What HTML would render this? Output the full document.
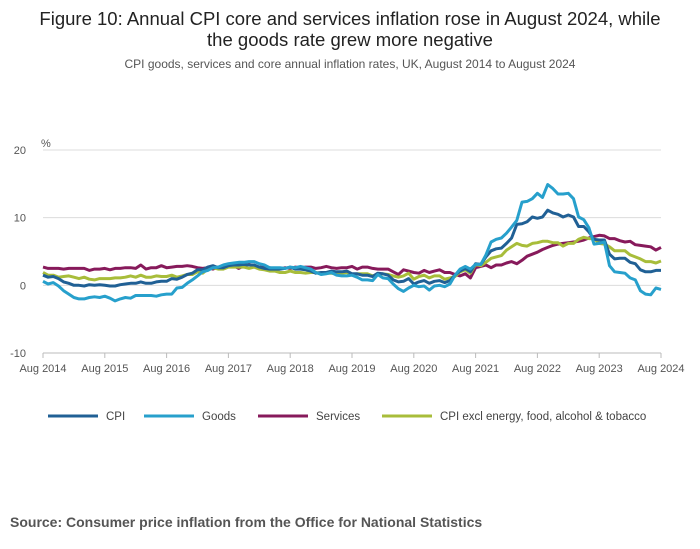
<!DOCTYPE html>
<html><head><meta charset="utf-8"><style>
body{margin:0;background:#fff;font-family:"Liberation Sans",sans-serif;}
#wrap{position:relative;width:700px;height:549px;overflow:hidden}
</style></head><body>
<div id="wrap">
<svg id="c" width="700" height="549">
<text x="350" y="25" text-anchor="middle" font-size="18.5" fill="#222">Figure 10: Annual CPI core and services inflation rose in August 2024, while</text>
<text x="350" y="46" text-anchor="middle" font-size="18.5" fill="#222">the goods rate grew more negative</text>
<text x="350" y="68" text-anchor="middle" font-size="12" fill="#555">CPI goods, services and core annual inflation rates, UK, August 2014 to August 2024</text>
<text x="41" y="147" font-size="11" fill="#555">%</text>
<text x="10" y="527" font-size="14" font-weight="bold" fill="#555">Source: Consumer price inflation from the Office for National Statistics</text>
<g id="grid"></g><g id="series"></g><g id="legend"></g>
</svg>
</div>
<script>
const yTicks=[20,10,0,-10];
const xLabels=["Aug 2014","Aug 2015","Aug 2016","Aug 2017","Aug 2018","Aug 2019","Aug 2020","Aug 2021","Aug 2022","Aug 2023","Aug 2024"];
const seriesNames=["CPI","Goods","Services","CPI excl energy, food, alcohol & tobacco"];
const cpi=[1.5,1.2,1.3,1.0,0.5,0.3,0.0,0.0,-0.1,0.1,0.0,0.1,0.0,-0.1,-0.1,0.1,0.2,0.3,0.3,0.5,0.3,0.3,0.5,0.6,0.6,1.0,0.9,1.2,1.6,1.8,2.3,2.3,2.7,2.9,2.6,2.6,2.9,3.0,3.0,3.1,3.0,3.0,2.7,2.5,2.4,2.4,2.4,2.5,2.7,2.4,2.4,2.3,2.1,1.8,1.9,1.9,2.1,2.0,2.0,2.1,1.7,1.7,1.5,1.5,1.3,1.8,1.7,1.5,0.8,0.5,0.6,1.0,0.2,0.5,0.7,0.3,0.6,0.7,0.4,0.7,1.5,2.1,2.5,2.0,3.2,3.1,4.2,5.1,5.4,5.5,6.2,7.0,9.0,9.1,9.4,10.1,9.9,10.1,11.1,10.7,10.5,10.1,10.4,10.1,8.7,8.7,7.9,6.8,6.7,6.7,4.6,3.9,4.0,4.0,3.4,3.2,2.3,2.0,2.0,2.2,2.2];
const goods=[0.6,0.2,0.4,-0.1,-0.8,-1.3,-1.8,-2.0,-2.0,-1.8,-1.7,-1.8,-1.6,-1.9,-2.3,-2.0,-1.8,-1.9,-1.5,-1.5,-1.5,-1.5,-1.6,-1.4,-1.3,-1.3,-0.4,-0.3,0.3,0.8,1.4,2.0,2.2,2.6,2.7,3.0,3.2,3.3,3.4,3.4,3.5,3.5,3.2,3.0,2.6,2.6,2.6,2.5,2.7,2.6,2.8,2.6,2.4,1.9,1.6,1.7,1.9,1.5,1.4,1.4,1.5,1.2,0.8,0.8,0.7,1.6,1.1,1.0,0.2,-0.5,-0.9,-0.4,0.0,-0.2,-0.1,-0.7,-0.1,0.0,-0.2,0.2,1.5,2.4,2.8,2.4,3.1,3.1,4.5,6.4,6.8,7.0,7.7,8.6,9.6,12.3,12.4,12.8,13.6,13.0,14.9,14.3,13.5,13.5,13.6,12.8,10.1,9.7,8.5,6.1,6.2,6.4,2.9,2.0,1.9,1.8,1.1,0.8,-0.8,-1.3,-1.4,-0.4,-0.6];
const services=[2.7,2.5,2.5,2.5,2.4,
2.5,2.5,2.5,2.5,2.2,2.4,2.4,2.5,2.3,2.5,2.5,2.6,
2.6,2.5,3.0,2.4,2.6,2.6,2.9,2.6,2.7,2.8,2.8,2.9,
2.8,2.6,2.5,2.6,2.4,2.7,2.6,2.8,2.9,2.5,2.9,3.1,
2.9,2.7,2.7,2.6,2.4,2.4,2.6,2.5,2.7,2.6,2.7,2.7,
2.5,2.6,2.8,2.6,2.5,2.6,2.6,2.8,2.4,2.7,2.7,2.5,
2.4,2.4,2.4,2.0,1.6,2.3,2.1,1.9,1.8,2.2,1.9,2.1,
2.3,1.9,1.9,1.6,1.4,1.7,1.1,2.6,2.8,3.0,2.6,3.0,
3.0,3.3,3.5,3.2,3.7,4.3,4.6,4.9,5.3,5.6,5.9,6.1,
6.2,6.3,6.4,6.5,6.7,7.0,7.2,7.4,7.3,6.9,6.9,6.6,
6.4,6.5,6.0,5.9,5.8,5.7,5.2,5.6];
const core=[1.9,1.5,1.5,1.2,1.3,1.4,1.2,1.0,1.2,0.9,0.8,1.0,1.0,1.0,1.1,1.1,1.2,1.4,1.2,1.5,1.2,1.2,1.4,1.3,1.3,1.5,1.2,1.4,1.6,1.6,2.0,1.8,2.4,2.6,2.4,2.4,2.7,2.7,2.7,2.7,2.5,2.7,2.4,2.3,2.1,2.1,1.9,1.9,2.1,1.9,1.9,1.8,1.9,1.9,1.8,1.8,1.8,1.7,1.8,1.9,1.5,1.7,1.7,1.7,1.4,1.6,1.7,1.6,1.4,1.2,1.4,1.8,0.9,1.3,1.5,1.1,1.4,1.4,0.9,1.1,1.3,2.0,2.3,1.8,3.1,2.9,3.4,4.0,4.2,4.4,5.2,5.7,6.2,5.9,5.8,6.2,6.3,6.5,6.5,6.3,6.3,5.8,6.2,6.2,6.8,7.1,6.9,6.9,6.2,6.1,5.7,5.1,5.1,5.1,4.5,4.2,3.9,3.5,3.5,3.3,3.6];
const colors=["#206095","#27a0cc","#871a5b","#a8bd3a"];
const NS="http://www.w3.org/2000/svg";
const x0=43,x1=661,y0v=20,y1v=-10,py0=150,py1=353;
const xs=i=>x0+(x1-x0)*i/120;
const ys=v=>py0+(y0v-v)*(py1-py0)/(y0v-y1v);
function mk(t,a,p){const e=document.createElementNS(NS,t);for(const k in a)e.setAttribute(k,a[k]);p.appendChild(e);return e;}
const grid=document.getElementById('grid');
yTicks.forEach(v=>{
 const l=mk('line',{x1:x0,x2:x1,y1:ys(v),y2:ys(v),stroke:v===-10?'#bbb':'#dcdcdc','stroke-width':1},grid);
 
 
 const t=mk('text',{x:26,y:ys(v)+4,'text-anchor':'end','font-size':11,fill:'#555'},grid);t.textContent=v;
 
 
});
xLabels.forEach((s,i)=>{
 const x=xs(i*12);
 const tk=mk('line',{x1:x,x2:x,y1:353,y2:358,stroke:'#bbb'},grid);
 
 
 const t=mk('text',{x:x,y:372,'text-anchor':'middle','font-size':11,fill:'#555'},grid);t.textContent=s;
 
 
});
const sg=document.getElementById('series');
[services,core,cpi,goods].forEach((arr,k)=>{
 const idx=[2,3,0,1][k];
 const p=mk('path',{d:arr.map((v,i)=>(i?'L':'M')+xs(i).toFixed(1)+','+ys(v).toFixed(1)).join(''),fill:'none',stroke:colors[idx],'stroke-width':3,'stroke-linejoin':'round'},sg);
 
 
});
const lg=document.getElementById('legend');
const lx=[48,144,258,382];
seriesNames.forEach((n,i)=>{
 const g=mk('g',{},lg);
 
 
 mk('line',{x1:lx[i],x2:lx[i]+50,y1:416,y2:416,stroke:colors[i],'stroke-width':3},g);
 const t=mk('text',{x:lx[i]+58,y:420,'font-size':11.5,fill:'#444'},g);t.textContent=n;
});
</script>
</body></html>
